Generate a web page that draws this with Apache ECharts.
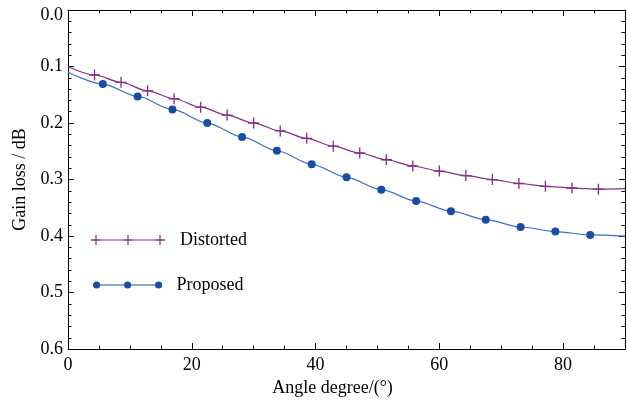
<!DOCTYPE html>
<html>
<head>
<meta charset="utf-8">
<script src="https://cdn.jsdelivr.net/npm/echarts@6/dist/echarts.min.js"></script>
<style>
html,body{margin:0;padding:0;background:#fff;}
#chart{width:627px;height:402px;}
</style>
</head>
<body>
<div id="chart"></div>
<script>
// Data
const distortedName = 'Distorted';
const proposedName = 'Proposed';
const distX = [0, 4.29, 8.57, 12.86, 17.14, 21.43, 25.71, 30.0, 34.29, 38.57, 42.86, 47.14, 51.43, 55.71, 60.0, 64.29, 68.57, 72.86, 77.14, 81.43, 85.71, 90];
const distY = [0.100, 0.115, 0.128, 0.143, 0.157, 0.172, 0.186, 0.200, 0.214, 0.227, 0.241, 0.253, 0.265, 0.276, 0.285, 0.293, 0.300, 0.307, 0.312, 0.315, 0.317, 0.316];
const propX = [0, 5.63, 11.25, 16.88, 22.5, 28.13, 33.75, 39.38, 45.0, 50.63, 56.25, 61.88, 67.5, 73.13, 78.75, 84.38, 90];
const propY = [0.110, 0.131, 0.153, 0.176, 0.200, 0.2245, 0.249, 0.273, 0.296, 0.318, 0.338, 0.356, 0.371, 0.384, 0.392, 0.398, 0.400];
const xTicks = [0, 20, 40, 60, 80];
const yTicks = [0.0, 0.1, 0.2, 0.3, 0.4, 0.5, 0.6];

const purple = '#862C88';
const blueLine = '#3D6CC6';
const blueDot = '#1A4CA2';
const FONT = 'Liberation Serif';

const plusPath = 'path://M0,4.4H10V5.6H0Z M4.4,0H5.6V10H4.4Z';
const legendDistIcon = 'path://M5,4.45H69V5.55H5Z M0,4.35H10V5.65H0Z M4.35,0H5.65V10H4.35Z M32,4.35H42V5.65H32Z M36.35,0H37.65V10H36.35Z M64,4.35H74V5.65H64Z M68.35,0H69.65V10H68.35Z';
const legendPropIcon = 'path://M7,3.1H31.2V4.1H7Z M38,3.1H62.2V4.1H38Z M0,3.6a3.6,3.6 0 1,0 7.2,0a3.6,3.6 0 1,0 -7.2,0Z M31,3.6a3.6,3.6 0 1,0 7.2,0a3.6,3.6 0 1,0 -7.2,0Z M62,3.6a3.6,3.6 0 1,0 7.2,0a3.6,3.6 0 1,0 -7.2,0Z';

function buildData(xs, ys) {
  return xs.map((x, i) => {
    const item = { value: [x, ys[i]] };
    if (i === 0 || i === xs.length - 1) item.symbol = 'none';
    return item;
  });
}

const xMin = xTicks[0], xMax = 90, yMin = yTicks[0], yMax = yTicks[yTicks.length - 1];
const labelBase = { color: '#000', fontFamily: FONT, fontSize: 18 };
function lineDef(show) {
  return { show: show, onZero: false, lineStyle: { color: '#000', width: 1 } };
}

function xAxisDef(pos, interval, tickLen, labels, line) {
  return {
    type: 'value', position: pos, min: xMin, max: xMax, interval: interval,
    axisLine: lineDef(line),
    axisTick: { show: true, inside: true, length: tickLen, lineStyle: { color: '#000', width: 1 } },
    axisLabel: labels ? Object.assign({ show: true, margin: 7, showMaxLabel: false }, labelBase) : { show: false },
    splitLine: { show: false },
    name: labels ? 'Angle degree/(°)' : '',
    nameLocation: 'middle', nameGap: 22,
    nameTextStyle: Object.assign({ padding: [0, 28, 0, 0] }, labelBase)
  };
}
function yAxisDef(pos, interval, tickLen, labels, line) {
  return {
    type: 'value', position: pos, inverse: true, min: yMin, max: yMax, interval: interval,
    axisLine: lineDef(line),
    axisTick: { show: true, inside: true, length: tickLen, lineStyle: { color: '#000', width: 1 } },
    axisLabel: labels ? Object.assign({
      show: true, margin: 5,
      formatter: v => (v === 0 ? '{top|' + v.toFixed(1) + '}' : v.toFixed(1)),
      rich: { top: Object.assign({ padding: [10, 0, 0, 0] }, labelBase) }
    }, labelBase) : { show: false },
    splitLine: { show: false },
    name: labels ? 'Gain loss / dB' : '',
    nameLocation: 'middle', nameGap: 36,
    nameTextStyle: labelBase
  };
}

const chart = echarts.init(document.getElementById('chart'), null, { renderer: 'canvas' });
chart.setOption({
  animation: false,
  backgroundColor: '#fff',
  grid: { left: 68, right: 2, top: 10, bottom: 49, containLabel: false },
  xAxis: [
    xAxisDef('bottom', 20, 6, true, true),
    xAxisDef('bottom', 5, 3.5, false, false),
    xAxisDef('top', 20, 6, false, true),
    xAxisDef('top', 5, 3.5, false, false)
  ],
  yAxis: [
    yAxisDef('left', 0.1, 6, true, true),
    yAxisDef('left', 0.02, 3.5, false, false),
    yAxisDef('right', 0.1, 6, false, true),
    yAxisDef('right', 0.02, 3.5, false, false)
  ],
  legend: [
    { data: [{ name: distortedName, icon: legendDistIcon }], left: 86, top: 226, orient: 'vertical',
      itemWidth: 94, itemHeight: 10, itemGap: 0, symbolKeepAspect: true,
      itemStyle: { borderWidth: 0 },
      textStyle: Object.assign({ lineHeight: 18 }, labelBase) },
    { data: [{ name: proposedName, icon: legendPropIcon }], left: 88, top: 271, orient: 'vertical',
      itemWidth: 88, itemHeight: 7.2, itemGap: 0, symbolKeepAspect: true,
      itemStyle: { borderWidth: 0 },
      textStyle: Object.assign({ lineHeight: 18 }, labelBase) }
  ],
  series: [
    { name: distortedName, type: 'line', xAxisIndex: 0, yAxisIndex: 0,
      data: buildData(distX, distY), smooth: 0.3, smoothMonotone: 'x',
      symbol: plusPath, symbolSize: 11, showAllSymbol: true,
      lineStyle: { color: purple, width: 1.2 },
      itemStyle: { color: purple, borderWidth: 0 }, z: 3 },
    { name: proposedName, type: 'line', xAxisIndex: 0, yAxisIndex: 0,
      data: buildData(propX, propY), smooth: 0.3, smoothMonotone: 'x',
      symbol: 'circle', symbolSize: 8, showAllSymbol: true,
      lineStyle: { color: blueLine, width: 1.2 },
      itemStyle: { color: blueDot, borderWidth: 0 }, z: 3 }
  ]
});
</script>
</body>
</html>
